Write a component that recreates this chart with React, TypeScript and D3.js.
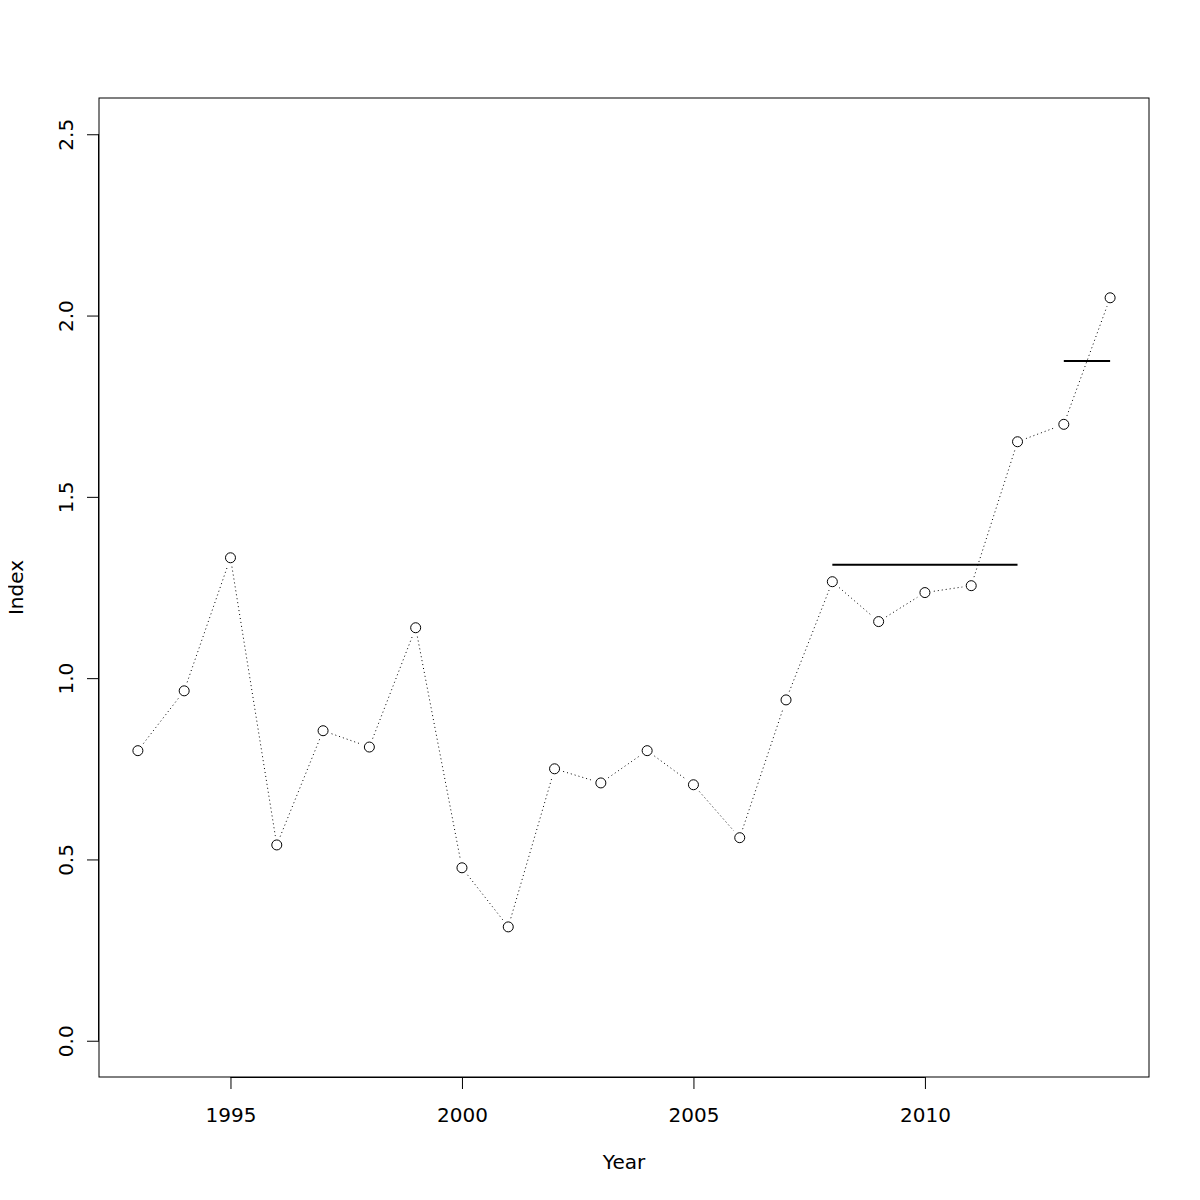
import { useEffect, useRef } from 'react'
import * as d3 from 'd3'

const years = [1993, 1994, 1995, 1996, 1997, 1998, 1999, 2000, 2001, 2002, 2003,
  2004, 2005, 2006, 2007, 2008, 2009, 2010, 2011, 2012, 2013, 2014]
const index = [0.80, 0.965, 1.332, 0.54, 0.855, 0.81, 1.139, 0.477, 0.314, 0.75, 0.711,
  0.80, 0.706, 0.56, 0.94, 1.266, 1.156, 1.236, 1.255, 1.652, 1.70, 2.049]
// period means drawn as horizontal segments
const means = [
  { from: 2008, to: 2012, value: 1.313 },
  { from: 2013, to: 2014, value: 1.875 },
]
const xTicks = [1995, 2000, 2005, 2010]
const yTicks = [0, 0.5, 1, 1.5, 2, 2.5]

const W = 1200
const H = 1200
const BOX = { left: 99, right: 1149, top: 98, bottom: 1077 }
const FONT = 'DejaVu Sans, sans-serif'
const FS = 20

export default function App() {
  const ref = useRef<SVGSVGElement>(null)

  useEffect(() => {
    if (!ref.current) return
    const svg = d3.select(ref.current)
    svg.selectAll('*').remove()

    const x = d3.scaleLinear().domain([1992.16, 2014.84]).range([BOX.left, BOX.right])
    const y = d3.scaleLinear().domain([-0.1, 2.6]).range([BOX.bottom, BOX.top])

    svg.append('rect').attr('width', W).attr('height', H).attr('fill', '#fff')

    // dotted line with gaps around the points (type = "b")
    const gap = 9
    const pts = years.map((yr, i) => [x(yr), y(index[i])] as [number, number])
    for (let i = 0; i < pts.length - 1; i++) {
      const [x1, y1] = pts[i]
      const [x2, y2] = pts[i + 1]
      const len = Math.hypot(x2 - x1, y2 - y1)
      if (len <= 2 * gap) continue
      const ux = (x2 - x1) / len, uy = (y2 - y1) / len
      svg.append('line')
        .attr('x1', x1 + ux * gap).attr('y1', y1 + uy * gap)
        .attr('x2', x2 - ux * gap).attr('y2', y2 - uy * gap)
        .attr('stroke', '#000').attr('stroke-width', 1)
        .attr('stroke-dasharray', '1,3')
    }

    svg.selectAll('.pt').data(pts).join('circle')
      .attr('cx', d => d[0]).attr('cy', d => d[1]).attr('r', 5)
      .attr('fill', 'none').attr('stroke', '#000').attr('stroke-width', 1)

    svg.selectAll('.mean').data(means).join('line')
      .attr('x1', d => x(d.from)).attr('x2', d => x(d.to))
      .attr('y1', d => y(d.value)).attr('y2', d => y(d.value))
      .attr('stroke', '#000').attr('stroke-width', 2)

    // box
    svg.append('rect')
      .attr('x', BOX.left).attr('y', BOX.top)
      .attr('width', BOX.right - BOX.left).attr('height', BOX.bottom - BOX.top)
      .attr('fill', 'none').attr('stroke', '#000').attr('stroke-width', 1)

    // x axis
    const xa = svg.append('g')
      .attr('transform', `translate(0,${BOX.bottom})`)
      .call(d3.axisBottom(x).tickValues(xTicks).tickFormat(d3.format('d')).tickSize(12).tickPadding(19))
    xa.select('.domain').attr('d', `M${x(1995)},0.5H${x(2010)}`)
    xa.selectAll('text').attr('font-size', FS).attr('font-family', FONT).attr('fill', '#000')

    // y axis
    const ya = svg.append('g')
      .attr('transform', `translate(${BOX.left},0)`)
      .call(d3.axisLeft(y).tickValues(yTicks).tickFormat(d3.format('.1f')).tickSize(12))
    ya.select('.domain').attr('d', `M-0.5,${y(0)}V${y(2.5)}`)
    ya.selectAll('.tick text')
      .attr('font-size', FS).attr('font-family', FONT).attr('fill', '#000')
      .attr('x', null).attr('dy', null)
      .attr('text-anchor', 'middle')
      .attr('transform', 'translate(-26,0) rotate(-90)')

    svg.append('text')
      .attr('x', (BOX.left + BOX.right) / 2).attr('y', 1169)
      .attr('text-anchor', 'middle').attr('font-size', FS).attr('font-family', FONT)
      .text('Year')
    svg.append('text')
      .attr('transform', `translate(23,${(BOX.top + BOX.bottom) / 2}) rotate(-90)`)
      .attr('text-anchor', 'middle').attr('font-size', FS).attr('font-family', FONT)
      .text('Index')
  }, [])

  return <svg ref={ref} width={W} height={H} style={{ display: 'block', margin: -8 }} />
}
